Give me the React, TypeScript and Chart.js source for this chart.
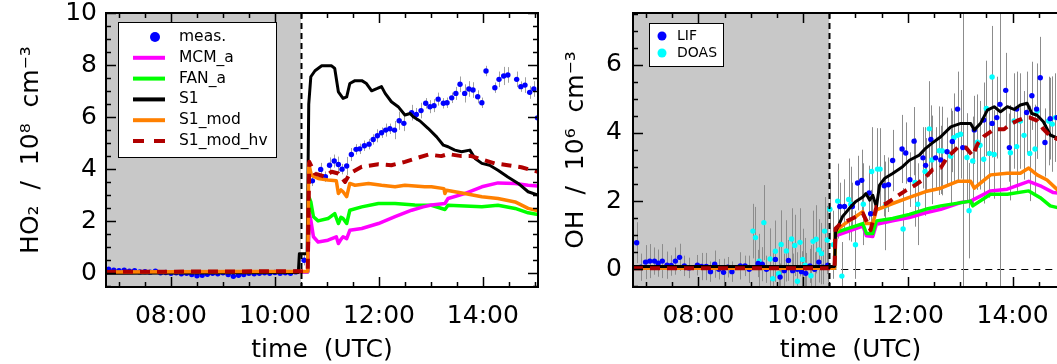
import React, { useEffect, useRef } from "react";
import { Chart, registerables } from "chart.js";
Chart.register(...registerables);

const FONT = "'DejaVu Sans', sans-serif";

// ---------------- axis ticks ----------------
const xTickValues = [8, 10, 12, 14];
const xTickLabels = ["08:00", "10:00", "12:00", "14:00"];
const ho2TickValues = [0, 2, 4, 6, 8, 10];
const ho2TickLabels = ["0", "2", "4", "6", "8", "10"];
const ohTickValues = [0, 2, 4, 6];
const ohTickLabels = ["0", "2", "4", "6"];

// ---------------- HO2 panel ----------------
const ho2MeasTime = [6.8, 6.9, 7.0, 7.1, 7.2, 7.3, 7.4, 7.5, 7.6, 7.7, 7.8, 7.9, 8.0, 8.1, 8.2, 8.3, 8.4, 8.5, 8.6, 8.7, 8.8, 8.9, 9.0, 9.1, 9.2, 9.3, 9.4, 9.5, 9.6, 9.7, 9.8, 9.9, 10.0, 10.1, 10.2, 10.3, 10.4,
  10.56, 10.72, 10.88, 10.97, 11.05, 11.14, 11.22, 11.29, 11.38, 11.47, 11.56, 11.63, 11.72, 11.81, 11.89, 11.97, 12.05, 12.13, 12.21, 12.3, 12.39, 12.48, 12.63, 12.72, 12.81, 12.9, 12.98, 13.06, 13.14, 13.24, 13.31, 13.4, 13.48, 13.56, 13.65, 13.73, 13.81, 13.9, 13.98, 14.06, 14.23, 14.31, 14.4, 14.48, 14.65, 14.73, 14.81, 14.9, 14.98, 15.05];
const ho2MeasValue = [0.15, 0.12, 0.1, 0.12, 0.08, 0.1, 0.05, 0.06, 0.04, 0.08, 0.02, 0.03, 0.0, 0.02, -0.02, 0.0, -0.05, -0.1, -0.08, -0.04, 0.0, -0.02, 0.02, -0.05, -0.12, -0.08, -0.05, 0.0, -0.02, 0.0, 0.02, 0.0, 0.03, 0.0, 0.02, 0.0, 0.05,
  0.5, 3.55, 3.99, 3.71, 4.15, 4.31, 4.18, 4.0, 4.12, 4.56, 4.76, 4.78, 4.9, 4.96, 5.14, 5.28, 5.4, 5.5, 5.55, 5.5, 5.86, 5.76, 6.17, 6.1, 6.25, 6.53, 6.4, 6.44, 6.69, 6.53, 6.55, 6.74, 6.91, 7.26, 6.91, 7.08, 7.04, 6.78, 6.55, 7.77, 7.13, 7.45, 7.58, 7.62, 7.45, 7.17, 7.23, 6.95, 7.08, 5.97];
const ho2MeasErr = [0.05, 0.05, 0.05, 0.05, 0.05, 0.05, 0.05, 0.05, 0.05, 0.05, 0.05, 0.05, 0.05, 0.05, 0.05, 0.05, 0.05, 0.05, 0.05, 0.05, 0.05, 0.05, 0.05, 0.05, 0.05, 0.05, 0.05, 0.05, 0.05, 0.05, 0.05, 0.05, 0.05, 0.05, 0.05, 0.05, 0.05,
  0.2, 0.2, 0.25, 0.2, 0.3, 0.25, 0.3, 0.2, 0.35, 0.25, 0.2, 0.2, 0.2, 0.2, 0.2, 0.25, 0.2, 0.25, 0.2, 0.35, 0.35, 0.3, 0.3, 0.25, 0.3, 0.2, 0.25, 0.25, 0.25, 0.2, 0.2, 0.2, 0.25, 0.3, 0.35, 0.3, 0.3, 0.25, 0.2, 0.2, 0.2, 0.3, 0.35, 0.3, 0.3, 0.2, 0.3, 0.25, 0.3, 0.3, 0.2, 0.2];

const ho2McmTime = [6.75, 10.63, 10.66, 10.69, 10.74, 10.83, 11.02, 11.18, 11.22, 11.27, 11.31, 11.38, 11.44, 11.67, 11.99, 12.31, 12.63, 12.85, 13.01, 13.27, 13.33, 13.65, 13.98, 14.29, 14.62, 14.87, 15.06];
const ho2McmValue = [0.03, 0.05, 2.3, 2.04, 1.4, 1.2, 1.27, 1.4, 1.14, 1.3, 1.4, 1.33, 1.65, 1.72, 1.91, 2.17, 2.42, 2.55, 2.62, 2.68, 2.87, 3.06, 3.32, 3.47, 3.45, 3.38, 3.35];

const ho2FanTime = [6.75, 10.63, 10.66, 10.69, 10.74, 10.83, 11.02, 11.15, 11.22, 11.27, 11.31, 11.38, 11.44, 11.67, 11.99, 12.31, 12.69, 13.01, 13.27, 13.33, 13.98, 14.29, 14.62, 14.87, 15.06];
const ho2FanValue = [0.03, 0.05, 2.9, 2.74, 2.17, 2.01, 2.1, 2.29, 1.91, 2.15, 2.1, 1.91, 2.42, 2.55, 2.68, 2.68, 2.62, 2.61, 2.45, 2.61, 2.55, 2.61, 2.49, 2.32, 2.26];

const ho2S1Time = [6.75, 10.45, 10.47, 10.62, 10.65, 10.69, 10.77, 10.9, 11.09, 11.15, 11.22, 11.31, 11.38, 11.44, 11.54, 11.67, 11.76, 11.86, 11.97, 12.05, 12.12, 12.24, 12.37, 12.5, 12.6, 12.66, 12.79, 12.95, 13.11, 13.24, 13.33, 13.46, 13.59, 13.75, 13.85, 13.98, 14.13, 14.29, 14.48, 14.68, 14.87, 15.06];
const ho2S1Value = [0.0, 0.03, 0.75, 0.75, 6.5, 7.55, 7.78, 7.97, 7.97, 7.87, 6.97, 6.72, 6.78, 7.29, 7.4, 7.4, 7.29, 7.01, 7.1, 7.17, 6.91, 6.59, 6.4, 6.08, 6.14, 6.01, 5.85, 5.56, 5.24, 4.92, 4.86, 4.73, 4.67, 4.73, 4.41, 4.22, 4.15, 3.96, 3.7, 3.45, 3.13, 3.0];

const ho2ModTime = [6.75, 10.63, 10.65, 10.7, 10.83, 11.02, 11.18, 11.22, 11.27, 11.31, 11.38, 11.44, 11.54, 11.8, 12.05, 12.31, 12.5, 12.88, 13.01, 13.25, 13.27, 13.3, 13.65, 13.98, 14.29, 14.62, 14.87, 15.06];
const ho2ModValue = [0.05, 0.08, 4.22, 3.77, 3.64, 3.58, 3.55, 3.06, 3.2, 3.13, 2.94, 3.45, 3.38, 3.45, 3.38, 3.32, 3.38, 3.32, 3.32, 3.25, 3.06, 3.19, 3.06, 2.94, 2.87, 2.74, 2.49, 2.4];

const ho2HvTime = [6.75, 10.63, 10.66, 10.77, 10.96, 11.09, 11.22, 11.35, 11.44, 11.67, 11.99, 12.24, 12.5, 12.72, 12.95, 13.2, 13.33, 13.59, 13.78, 13.98, 14.23, 14.48, 14.74, 15.06];
const ho2HvValue = [0.05, 0.08, 4.28, 3.83, 3.71, 3.9, 3.83, 3.51, 3.83, 4.09, 4.19, 4.15, 4.28, 4.42, 4.56, 4.5, 4.58, 4.5, 4.5, 4.37, 4.22, 4.15, 4.07, 3.9];

// ---------------- OH panel ----------------
const lifTime = [6.82, 6.9, 6.99, 7.07, 7.16, 7.23, 7.31, 7.4, 7.48, 7.56, 7.64, 7.73, 7.82, 7.98, 8.06, 8.15, 8.23, 8.31, 8.39, 8.48, 8.56, 8.64, 8.8, 8.89, 8.97, 9.14, 9.22, 9.3, 9.47, 9.56, 9.64, 9.72, 9.8, 9.89, 9.97, 10.05, 10.13, 10.22, 10.3, 10.38, 10.47,
  10.7, 10.79, 10.94, 11.04, 11.12, 11.26, 11.29, 11.55, 11.63, 11.71, 11.89, 11.96, 12.04, 12.12, 12.29, 12.34, 12.44, 12.53, 12.63, 12.75, 12.85, 12.95, 13.05, 13.27, 13.45, 13.61, 13.7, 13.76, 13.87, 13.94, 14.08, 14.27, 14.37, 14.46, 14.53, 14.62, 14.72, 14.85];
const lifValue = [0.78, 0.06, 0.21, 0.24, 0.24, 0.18, 0.24, 0.12, 0.11, 0.24, 0.35, 0.1, 0.04, 0.12, 0.08, 0.08, -0.07, 0.15, 0.0, -0.09, 0.06, -0.07, 0.1, 0.1, 0.0, 0.17, 0.15, 0.0, 0.29, -0.23, -0.04, 0.26, -0.04, 0.0, -0.07, -0.12, 0.1, 0.0, 0.21, 0.06, 0.12,
  1.84, 1.84, 1.84, 2.53, 2.61, 2.24, 1.63, 2.45, 2.48, 3.19, 3.53, 3.41, 2.63, 3.76, 3.27, 3.05, 3.81, 3.27, 3.21, 3.45, 3.75, 4.7, 3.57, 4.09, 4.38, 4.28, 4.45, 4.84, 5.25, 3.57, 4.7, 4.6, 5.09, 4.7, 5.62, 3.72, 4.42, 4.45];
const lifErr = [0.6, 0.4, 0.5, 0.5, 0.4, 0.4, 0.5, 0.4, 0.3, 0.4, 0.4, 0.3, 0.3, 0.3, 0.4, 0.4, 0.3, 0.4, 0.3, 0.4, 0.3, 0.3, 0.4, 0.3, 0.4, 0.4, 0.5, 0.4, 0.5, 0.4, 0.5, 0.6, 0.5, 0.5, 0.6, 0.6, 0.5, 0.5, 0.6, 0.5, 0.5,
  0.7, 0.8, 0.7, 0.8, 0.9, 0.8, 0.7, 0.9, 0.8, 0.9, 1.0, 0.9, 0.8, 1.0, 0.9, 0.8, 1.0, 0.9, 1.0, 1.0, 0.9, 1.1, 9.0, 1.0, 1.1, 1.0, 1.2, 9.0, 1.1, 1.0, 1.1, 1.2, 1.0, 1.1, 1.2, 1.0, 1.2, 1.1];

const doasTime = [9.04, 9.09, 9.16, 9.25, 9.37, 9.42, 9.47, 9.53, 9.58, 9.68, 9.78, 9.84, 9.89, 9.94, 9.99, 10.04, 10.15, 10.19, 10.25, 10.3, 10.35, 10.41, 10.46, 10.51,
  10.58, 10.66, 10.74, 10.87, 10.91, 11.0, 11.15, 11.31, 11.42, 11.47, 11.57, 11.91, 12.14, 12.19, 12.33, 12.41, 12.46, 12.6, 12.66, 12.82, 12.88, 12.95, 13.01, 13.13, 13.17, 13.24, 13.33, 13.38, 13.45, 13.5, 13.56, 13.61, 13.65, 13.96, 14.03, 14.08, 14.15, 14.22, 14.33, 14.43, 14.47, 14.69, 14.76, 14.82];
const doasValue = [1.12, 0.93, 0.24, 1.37, 0.3, -0.28, 0.53, -0.13, 0.73, 0.54, 0.89, 0.7, -0.35, 0.79, 0.29, 0.12, -0.19, 0.82, 0.88, 0.57, 0.46, 1.12, 0.86, 1.76,
  0.72, 2.0, -0.2, 2.05, 1.91, 0.72, 1.91, 2.87, 2.94, 2.94, 1.86, 1.18, 2.55, 1.91, 2.87, 4.12, 3.21, 3.48, 3.47, 3.32, 3.86, 3.93, 3.96, 3.28, 1.72, 3.18, 3.73, 3.64, 3.23, 4.72, 3.4, 5.64, 3.37, 3.42, 4.35, 3.6, 4.35, 3.93, 3.4, 3.53, 4.64, 4.35, 4.26, 4.45];
const doasErr = [0.8, 0.9, 0.8, 1.1, 0.9, 0.8, 0.9, 0.8, 1.0, 0.9, 0.9, 0.9, 0.8, 1.0, 0.9, 0.8, 0.9, 0.9, 1.0, 0.9, 0.9, 1.0, 1.0, 0.9,
  1.0, 1.1, 1.0, 1.2, 1.1, 1.0, 1.2, 1.3, 1.2, 1.2, 1.3, 1.2, 1.3, 1.2, 1.3, 1.4, 1.3, 1.3, 1.3, 1.4, 1.3, 1.4, 1.3, 1.3, 1.4, 1.3, 1.4, 1.3, 1.3, 1.4, 1.3, 1.5, 1.3, 1.4, 1.4, 1.3, 1.4, 1.3, 1.4, 1.3, 1.4, 1.3, 1.4, 1.3];

const ohMcmTime = [6.75, 10.6, 10.62, 11.14, 11.21, 11.33, 11.4, 11.71, 12.03, 12.34, 12.63, 13.01, 13.2, 13.58, 13.9, 14.31, 14.53, 14.78, 15.06];
const ohMcmValue = [0.03, 0.03, 0.98, 1.27, 0.98, 0.96, 1.32, 1.42, 1.52, 1.66, 1.76, 1.96, 2.0, 2.3, 2.35, 2.58, 2.45, 2.25, 2.2];

const ohFanTime = [6.75, 10.6, 10.62, 10.88, 11.14, 11.21, 11.33, 11.4, 11.71, 12.03, 12.34, 12.63, 13.2, 13.24, 13.58, 13.9, 14.31, 14.53, 14.72, 14.86, 15.06];
const ohFanValue = [0.03, 0.03, 1.08, 1.21, 1.34, 1.05, 1.05, 1.42, 1.49, 1.61, 1.76, 1.86, 2.0, 1.86, 2.2, 2.2, 2.3, 2.1, 1.86, 1.81, 1.8];

const ohS1Time = [6.75, 10.6, 10.62, 10.75, 10.88, 11.0, 11.14, 11.2, 11.27, 11.33, 11.4, 11.46, 11.56, 11.71, 11.9, 12.03, 12.22, 12.34, 12.47, 12.63, 12.82, 13.01, 13.2, 13.27, 13.39, 13.52, 13.65, 13.77, 13.9, 14.03, 14.15, 14.28, 14.37, 14.47, 14.59, 14.72, 14.86, 15.06];
const ohS1Value = [0.08, 0.08, 1.1, 1.54, 1.78, 1.98, 2.12, 2.22, 2.03, 2.17, 1.83, 2.47, 2.67, 2.81, 3.01, 3.2, 3.35, 3.55, 3.71, 3.89, 4.18, 4.28, 4.28, 4.09, 4.28, 4.67, 4.77, 4.62, 4.77, 4.69, 4.82, 4.87, 4.57, 4.52, 4.33, 3.94, 3.85, 3.8];

const ohModTime = [6.75, 10.6, 10.62, 10.8, 11.0, 11.14, 11.21, 11.33, 11.4, 11.56, 11.71, 12.03, 12.34, 12.63, 12.95, 13.2, 13.27, 13.58, 13.9, 14.15, 14.31, 14.47, 14.66, 14.86, 15.06];
const ohModValue = [0.03, 0.03, 1.13, 1.34, 1.54, 1.69, 1.34, 1.34, 1.74, 1.84, 1.93, 2.11, 2.28, 2.38, 2.58, 2.58, 2.38, 2.77, 2.82, 2.82, 2.97, 2.77, 2.62, 2.33, 2.3];

const ohHvTime = [6.75, 10.6, 10.62, 10.72, 10.94, 11.14, 11.21, 11.29, 11.4, 11.59, 11.78, 11.96, 12.12, 12.29, 12.47, 12.63, 12.75, 12.95, 13.11, 13.24, 13.33, 13.46, 13.65, 13.84, 13.96, 14.09, 14.24, 14.33, 14.47, 14.59, 14.72, 14.86, 15.06];
const ohHvValue = [0.03, 0.03, 1.2, 1.34, 1.49, 1.64, 1.42, 1.15, 1.83, 1.93, 2.13, 2.31, 2.45, 2.63, 2.92, 2.98, 3.28, 3.57, 3.57, 3.33, 3.67, 3.91, 4.11, 4.11, 4.26, 4.36, 4.45, 4.45, 4.36, 4.11, 3.91, 3.82, 3.75];

// ---------------- helpers ----------------
const toXY = (t: number[], v: number[]) => t.map((x, i) => ({ x, y: v[i] }));

const BLUE = "#0000ff";
const CYAN = "#00ffff";
const MAGENTA = "#ff00ff";
const GREEN = "#00ff00";
const BLACK = "#000000";
const ORANGE = "#ff8000";
const DARKRED = "#b00000";

const pointSet = (label: string, t: number[], v: number[], e: number[], color: string, order: number) => ({
  label, data: toXY(t, v), errors: e, showLine: false, pointRadius: 2.7, pointHoverRadius: 2.7,
  pointBackgroundColor: color, pointBorderWidth: 0, borderColor: color, backgroundColor: color,
  isDot: true, order,
});
const lineSet = (label: string, t: number[], v: number[], color: string, width: number, order: number, dash: number[] = []) => ({
  label, data: toXY(t, v), borderColor: color, backgroundColor: color, borderWidth: width,
  borderDash: dash, pointRadius: 0, tension: 0, fill: false, isDot: false, order,
  borderCapStyle: "butt", borderJoinStyle: "round",
});

const decorPlugin: any = {
  id: "decor",
  beforeDatasetsDraw(chart: any, _a: any, o: any) {
    const { ctx, chartArea: ca } = chart;
    const x = chart.scales.x, y = chart.scales.y;
    ctx.save();
    ctx.beginPath();
    ctx.rect(ca.left, ca.top, ca.right - ca.left, ca.bottom - ca.top);
    ctx.clip();
    const xs = x.getPixelForValue(o.shadeEnd);
    ctx.fillStyle = "#c8c8c8";
    ctx.fillRect(ca.left, ca.top, xs - ca.left, ca.bottom - ca.top);
    if (o.zeroLine) {
      const yz = y.getPixelForValue(0);
      ctx.beginPath();
      ctx.setLineDash([7, 5]);
      ctx.lineWidth = 1;
      ctx.strokeStyle = "#000";
      ctx.moveTo(xs, Math.round(yz) + 0.5);
      ctx.lineTo(ca.right, Math.round(yz) + 0.5);
      ctx.stroke();
      ctx.setLineDash([]);
    }
    ctx.strokeStyle = o.errColor;
    ctx.lineWidth = 1;
    chart.data.datasets.forEach((ds: any) => {
      if (!ds.errors) return;
      ds.data.forEach((p: any, i: number) => {
        const e = ds.errors[i];
        if (!e) return;
        const px = Math.round(x.getPixelForValue(p.x)) + 0.5;
        ctx.beginPath();
        ctx.moveTo(px, y.getPixelForValue(p.y - e));
        ctx.lineTo(px, y.getPixelForValue(p.y + e));
        ctx.stroke();
      });
    });
    ctx.restore();
  },
  afterDatasetsDraw(chart: any, _a: any, o: any) {
    const { ctx, chartArea: ca } = chart;
    const x = chart.scales.x, y = chart.scales.y;
    ctx.save();
    // dashed vertical line at end of dark period
    const xs = Math.round(x.getPixelForValue(o.shadeEnd)) + 0.5;
    ctx.beginPath();
    ctx.setLineDash([6, 4]);
    ctx.lineWidth = 2;
    ctx.strokeStyle = "#000";
    ctx.moveTo(xs, ca.top);
    ctx.lineTo(xs, ca.bottom);
    ctx.stroke();
    ctx.setLineDash([]);
    // frame
    ctx.lineWidth = 2;
    ctx.strokeRect(ca.left, ca.top, ca.right - ca.left, ca.bottom - ca.top);
    // inward ticks
    ctx.lineWidth = 1.5;
    ctx.beginPath();
    for (let v = 7; v <= x.max; v += 0.5) {
      const px = Math.round(x.getPixelForValue(v)) + 0.5;
      const len = v % 2 === 0 ? 10 : 5;
      ctx.moveTo(px, ca.bottom); ctx.lineTo(px, ca.bottom - len);
      ctx.moveTo(px, ca.top); ctx.lineTo(px, ca.top + len);
    }
    for (let v = Math.ceil(y.min * 2) / 2; v <= y.max; v += 0.5) {
      const py = Math.round(y.getPixelForValue(v)) + 0.5;
      const len = v % 2 === 0 ? 10 : 5;
      ctx.moveTo(ca.left, py); ctx.lineTo(ca.left + len, py);
      ctx.moveTo(ca.right, py); ctx.lineTo(ca.right - len, py);
    }
    ctx.stroke();
    // legend
    const L = o.legend;
    if (L) {
      const lx = ca.left + L.x, ly = ca.top + L.y;
      ctx.fillStyle = "#fff";
      ctx.fillRect(lx, ly, L.w, L.h);
      ctx.strokeStyle = "#000";
      ctx.lineWidth = 1;
      ctx.strokeRect(lx + 0.5, ly + 0.5, L.w, L.h);
      ctx.font = `${L.fontSize}px ${FONT}`;
      ctx.textBaseline = "middle";
      ctx.textAlign = "left";
      chart.data.datasets.slice(0, L.count).forEach((ds: any, i: number) => {
        const cy = ly + L.firstRow + i * L.rowH;
        if (ds.isDot) {
          ctx.fillStyle = ds.pointBackgroundColor;
          ctx.beginPath();
          ctx.arc(lx + L.dotX, cy, L.dotR, 0, Math.PI * 2);
          ctx.fill();
        } else {
          ctx.strokeStyle = ds.borderColor;
          ctx.lineWidth = 4;
          ctx.setLineDash(ds.borderDash && ds.borderDash.length ? [11, 10] : []);
          ctx.beginPath();
          ctx.moveTo(lx + L.lineX0, cy);
          ctx.lineTo(lx + L.lineX1, cy);
          ctx.stroke();
          ctx.setLineDash([]);
        }
        ctx.fillStyle = "#000";
        ctx.fillText(ds.label, lx + L.textX, cy);
      });
    }
    ctx.restore();
  },
};

function buildConfig(spec: any) {
  const tickFont = { family: FONT, size: 25 };
  return {
    type: "line",
    data: { datasets: spec.datasets },
    options: {
      responsive: false,
      animation: false,
      devicePixelRatio: 1,
      events: [],
      layout: { padding: { top: 13, right: spec.padRight, left: 0, bottom: 0 } },
      plugins: {
        legend: { display: false },
        tooltip: { enabled: false },
        decor: spec.decor,
      },
      scales: {
        x: {
          type: "linear",
          min: 6.75,
          max: 15.06,
          grid: { display: false, drawTicks: false },
          border: { display: false },
          afterBuildTicks: (s: any) => { s.ticks = xTickValues.map((v) => ({ value: v })); },
          afterFit: (s: any) => { s.height = 77; s.paddingLeft = 0; s.paddingRight = 0; },
          ticks: {
            font: tickFont, color: "#000", padding: 14, maxRotation: 0, autoSkip: false,
            callback: (v: any) => xTickLabels[xTickValues.indexOf(v)] ?? "",
          },
          title: { display: true, text: "time  (UTC)", font: tickFont, color: "#000", padding: { top: 0, bottom: -1 } },
        },
        y: {
          type: "linear",
          min: spec.yMin,
          max: spec.yMax,
          grid: { display: false, drawTicks: false },
          border: { display: false },
          afterBuildTicks: (s: any) => { s.ticks = spec.yTicks.map((v: number) => ({ value: v })); },
          afterFit: (s: any) => { s.width = spec.yWidth; s.paddingTop = 0; s.paddingBottom = 0; },
          ticks: {
            font: tickFont, color: "#000", padding: spec.yTickPad, autoSkip: false,
            callback: (v: any) => spec.yLabels[spec.yTicks.indexOf(v)] ?? "",
          },
          title: { display: true, text: spec.yTitle, font: tickFont, color: "#000", padding: { top: 16, bottom: 0 } },
        },
      },
    },
    plugins: [decorPlugin],
  } as any;
}

const leftSpec = {
  datasets: [
    pointSet("meas.", ho2MeasTime, ho2MeasValue, ho2MeasErr, BLUE, 10),
    lineSet("MCM_a", ho2McmTime, ho2McmValue, MAGENTA, 3.5, 4),
    lineSet("FAN_a", ho2FanTime, ho2FanValue, GREEN, 3.5, 5),
    lineSet("S1", ho2S1Time, ho2S1Value, BLACK, 3, 3),
    lineSet("S1_mod", ho2ModTime, ho2ModValue, ORANGE, 3.5, 2),
    lineSet("S1_mod_hv", ho2HvTime, ho2HvValue, DARKRED, 4, 1, [10, 7]),
  ],
  padRight: 22,
  yMin: -0.53,
  yMax: 10,
  yTicks: ho2TickValues,
  yLabels: ho2TickLabels,
  yWidth: 106,
  yTickPad: 9,
  yTitle: "HO\u2082  /  10\u2078  cm\u207B\u00B3",
  decor: {
    shadeEnd: 10.5,
    zeroLine: false,
    errColor: "#a0a0a0",
    legend: { count: 6, x: 12, y: 9, w: 158, h: 135, firstRow: 15, rowH: 20.8, dotX: 37, dotR: 5, lineX0: 15, lineX1: 47, textX: 61, fontSize: 15.5 },
  },
};

const rightSpec = {
  datasets: [
    pointSet("LIF", lifTime, lifValue, lifErr, BLUE, 10),
    pointSet("DOAS", doasTime, doasValue, doasErr, CYAN, 11),
    lineSet("MCM_a", ohMcmTime, ohMcmValue, MAGENTA, 3.5, 5),
    lineSet("FAN_a", ohFanTime, ohFanValue, GREEN, 3.5, 4),
    lineSet("S1", ohS1Time, ohS1Value, BLACK, 3, 2),
    lineSet("S1_mod", ohModTime, ohModValue, ORANGE, 3.5, 3),
    lineSet("S1_mod_hv", ohHvTime, ohHvValue, DARKRED, 4, 1, [10, 7]),
  ],
  padRight: 7,
  yMin: -0.52,
  yMax: 7.52,
  yTicks: ohTickValues,
  yLabels: ohTickLabels,
  yWidth: 88,
  yTickPad: 11,
  yTitle: "OH  /  10\u2076  cm\u207B\u00B3",
  decor: {
    shadeEnd: 10.5,
    zeroLine: true,
    errColor: "#8c8c8c",
    legend: { count: 2, x: 16, y: 10, w: 74, h: 43, firstRow: 13, rowH: 17, dotX: 13, dotR: 4.5, lineX0: 5, lineX1: 20, textX: 28, fontSize: 14 },
  },
};

export default function App() {
  const leftRef = useRef<HTMLCanvasElement>(null);
  const rightRef = useRef<HTMLCanvasElement>(null);
  useEffect(() => {
    const c1 = new Chart(leftRef.current as HTMLCanvasElement, buildConfig(leftSpec));
    const c2 = new Chart(rightRef.current as HTMLCanvasElement, buildConfig(rightSpec));
    return () => { c1.destroy(); c2.destroy(); };
  }, []);
  return (
    <div style={{ position: "fixed", left: 0, top: 0, width: 1057, height: 364, overflow: "hidden", background: "#fff" }}>
      <div style={{ position: "absolute", left: 0, top: 0, width: 560, height: 364 }}>
        <canvas ref={leftRef} width={560} height={364} style={{ width: 560, height: 364, display: "block" }} />
      </div>
      <div style={{ position: "absolute", left: 545, top: 0, width: 530, height: 364 }}>
        <canvas ref={rightRef} width={530} height={364} style={{ width: 530, height: 364, display: "block" }} />
      </div>
    </div>
  );
}
